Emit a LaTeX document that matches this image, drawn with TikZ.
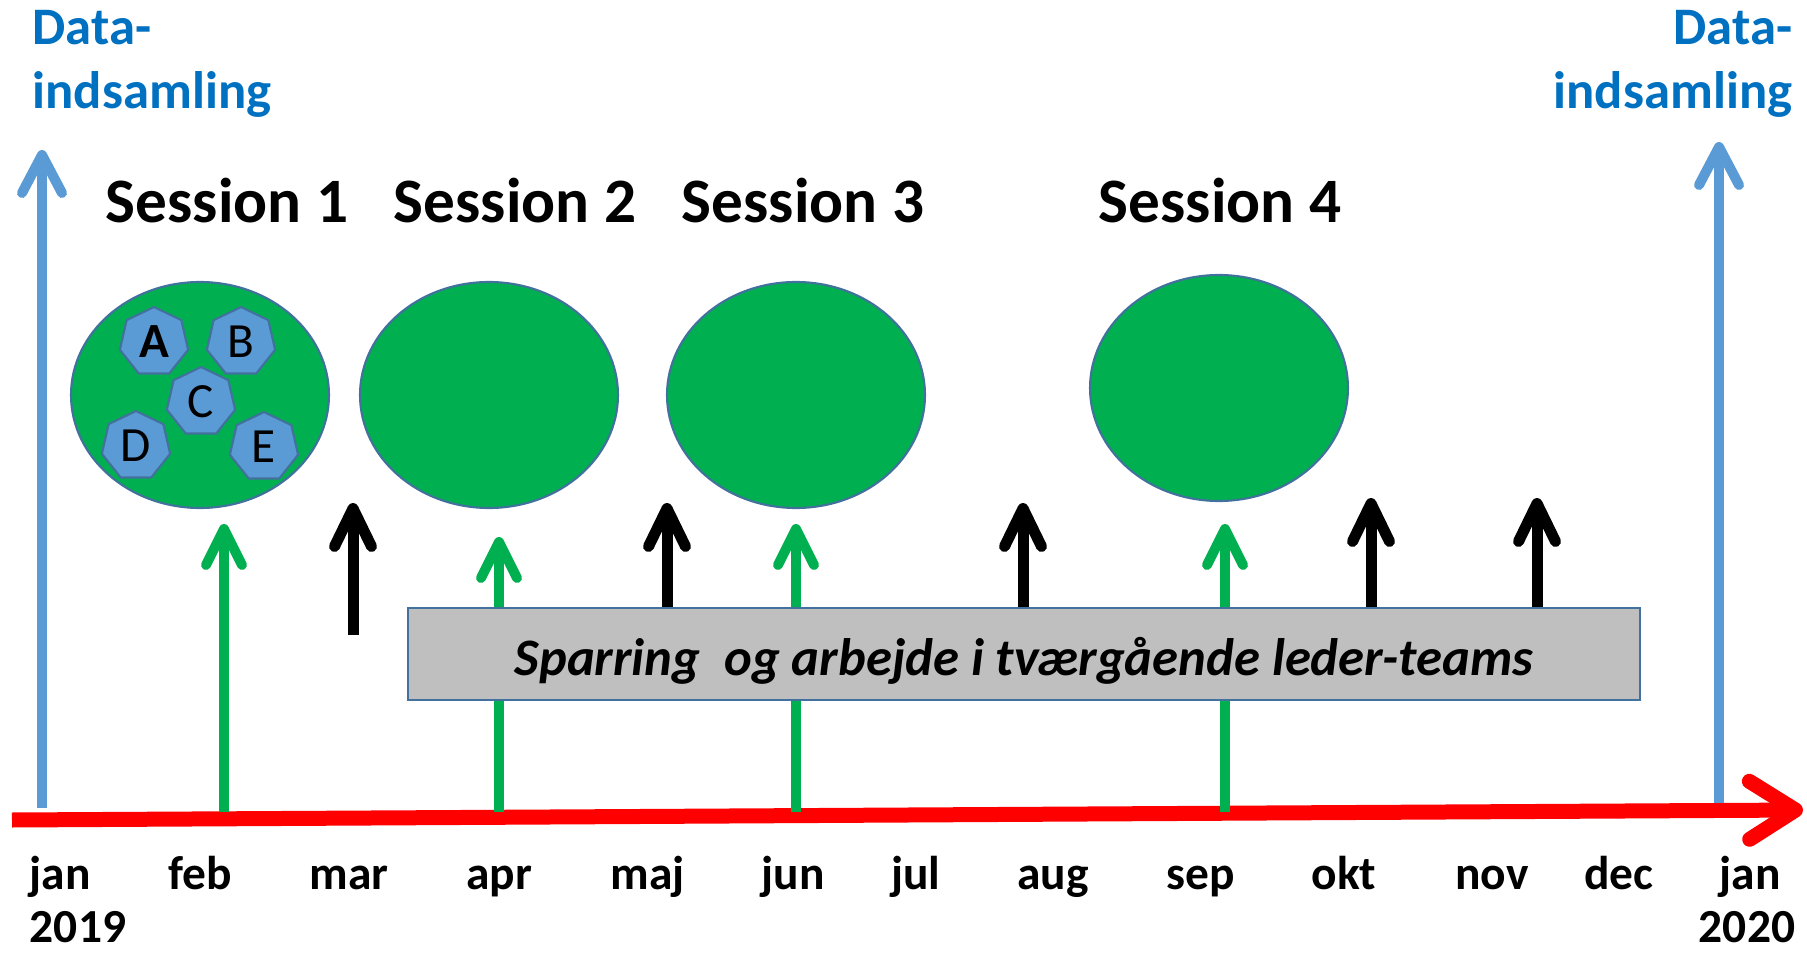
\documentclass[tikz,border=0pt]{standalone}
\usepackage{fontspec}
\setmainfont{Carlito}
\usetikzlibrary{arrows.meta, shapes.geometric}

\definecolor{axisred}{RGB}{255,0,0}
\definecolor{datablue}{RGB}{91,155,213}
\definecolor{textblue}{RGB}{0,112,192}
\definecolor{sessiongreen}{RGB}{0,176,80}
\definecolor{edgeblue}{RGB}{65,113,156}
\definecolor{teamgray}{RGB}{191,191,191}

\begin{document}
\begin{tikzpicture}[
	dataarrow/.style = {line width = 0.1cm, datablue, -{Straight Barb[round, length = 0.38cm, width = 0.40cm]}},
	sessionarrow/.style = {line width = 0.1cm, sessiongreen, -{Straight Barb[round, length = 0.36cm, width = 0.36cm]}},
	teamarrow/.style = {line width = 0.11cm, black, -{Straight Barb[round, length = 0.38cm, width = 0.37cm]}},
	session/.style = {ellipse, minimum width = 2.58cm, minimum height = 2.26cm, inner sep = 0, fill = sessiongreen, draw = edgeblue, line width = 0.6pt},
	member/.style = {regular polygon, regular polygon sides = 7, minimum size = 0.70cm, inner sep = 0, fill = datablue, draw = edgeblue, line width = 0.6pt, font = \fontsize{14}{16}\selectfont},
	month/.style = {anchor = base, font = \fontsize{13.5}{16}\selectfont\bfseries}
]

	% Canvas
	
	\useasboundingbox (0, 0) rectangle (18.07, 9.52);
	
	% Time axis
	
	\draw [line width = 0.15cm, axisred, -{Straight Barb[round, length = 0.46cm, width = 0.58cm]}] (0.12, 1.32) -- (18.03, 1.42);
	
	% Data collection arrows + labels
	
	\draw [dataarrow] (0.42, 1.44) -- (0.42, 8.02);
	\draw [dataarrow] (17.19, 1.49) -- (17.19, 8.10);
	
	\node [align = left, anchor = north west, inner sep = 0, text = textblue, font = \fontsize{15}{18.2}\selectfont\bfseries] (dataL) at (0.32, 9.42) {Data-\\indsamling};
	\node [align = right, anchor = north east, inner sep = 0, text = textblue, font = \fontsize{15}{18.2}\selectfont\bfseries] (dataR) at (17.93, 9.42) {Data-\\indsamling};
	
	% Sessions + titles
	
	\foreach \x/\y/\t [count = \i] in {2.00/5.57/2.27, 4.89/5.57/5.15, 7.96/5.57/8.03, 12.19/5.64/12.20}
	{
		\node [session] (s\i) at (\x, \y) {};
		\node [anchor = base, font = \fontsize{18}{22}\selectfont\bfseries] (title\i) at (\t, 7.29) {Session \i};
	}
	
	% Groups in the first session
	
	\node [member, font = \fontsize{14}{16}\selectfont\bfseries] (A) at (1.54, 6.10) {A};
	\node [member] (B) at (2.41, 6.10) {B};
	\node [member] (C) at (2.01, 5.50) {C};
	\node [member] (D) at (1.36, 5.06) {D};
	\node [member] (E) at (2.64, 5.05) {E};
	
	% Session arrows
	
	\foreach \x/\y in {2.24/4.28, 4.99/4.15, 7.96/4.28, 12.25/4.28}
		\draw [sessionarrow] (\x, 1.40) -- (\x, \y);
	
	% Team arrows
	
	\draw [teamarrow] (3.53, 3.17) -- (3.53, 4.49);
	
	\foreach \x/\y in {6.67/4.49, 10.23/4.49, 13.71/4.54, 15.37/4.54}
		\draw [teamarrow] (\x, 3.00) -- (\x, \y);
	
	% Leader teams
	
	\node [draw = edgeblue, fill = teamgray, line width = 0.8pt, minimum width = 12.32cm, minimum height = 0.92cm, inner sep = 0, text height = 0.52cm, text depth = 0.10cm, font = \fontsize{15}{18}\selectfont\bfseries\itshape] (team) at (10.24, 2.98) {Sparring\ \ og arbejde i tværgående leder-teams};
	
	% Months + years
	
	\foreach \x/\m [count = \i] in {0.60/jan, 2.00/feb, 3.49/mar, 4.99/apr, 6.48/maj, 7.93/jun, 9.16/jul, 10.53/aug, 12.01/sep, 13.44/okt, 14.92/nov, 16.19/dec, 17.50/jan}
		\node [month] (m\i) at (\x, 0.63) {\m};
	
	\node [month] (y2019) at (0.78, 0.10) {2019};
	\node [month] (y2020) at (17.47, 0.10) {2020};

\end{tikzpicture}
\end{document}
